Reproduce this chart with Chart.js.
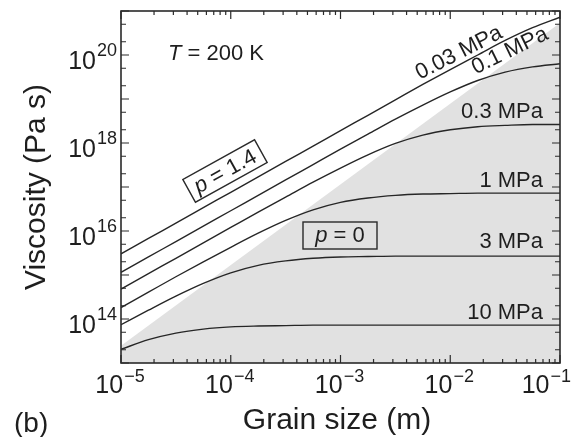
<!DOCTYPE html>
<html>
<head>
<meta charset="utf-8">
<script src="https://cdn.jsdelivr.net/npm/chart.js@4/dist/chart.umd.min.js"></script>
<style>
  html, body { margin: 0; padding: 0; background: #fff; }
</style>
</head>
<body>
<canvas id="chart" width="576" height="437"></canvas>
<script>
// grain size grid, log10(m), quarter decades
const grainExp = [-5, -4.75, -4.5, -4.25, -4, -3.75, -3.5, -3.25, -3, -2.75, -2.5, -2.25, -2, -1.75, -1.5, -1.25, -1];

// log10 viscosity (Pa s), one array per stress
const visc003 = [15.48, 15.83, 16.18, 16.53, 16.88, 17.23, 17.58, 17.93, 18.28, 18.63, 18.98, 19.33, 19.67, 20.00, 20.33, 20.62, 20.86];
const visc01  = [15.06, 15.41, 15.76, 16.11, 16.46, 16.81, 17.16, 17.51, 17.86, 18.20, 18.54, 18.86, 19.16, 19.42, 19.61, 19.73, 19.80];
const visc03  = [14.68, 15.03, 15.38, 15.73, 16.08, 16.43, 16.77, 17.11, 17.43, 17.73, 17.99, 18.18, 18.30, 18.37, 18.40, 18.42, 18.42];
const visc1   = [14.26, 14.61, 14.96, 15.30, 15.63, 15.95, 16.24, 16.48, 16.65, 16.75, 16.81, 16.84, 16.85, 16.86, 16.86, 16.86, 16.86];
const visc3   = [13.87, 14.20, 14.52, 14.81, 15.05, 15.22, 15.32, 15.38, 15.41, 15.42, 15.43, 15.43, 15.43, 15.43, 15.43, 15.43, 15.43];
const visc10  = [13.31, 13.53, 13.68, 13.77, 13.82, 13.84, 13.85, 13.86, 13.86, 13.86, 13.86, 13.86, 13.86, 13.86, 13.86, 13.86, 13.86];
const stressSeries = [visc003, visc01, visc03, visc1, visc3, visc10];
const stressLabels = ['0.03 MPa', '0.1 MPa', '0.3 MPa', '1 MPa', '3 MPa', '10 MPa'];

// edge of the grey (p = 0) field
const boundaryGrainExp = [-5, -1];
const boundaryViscExp = [13.39, 20.73];

// axis ticks (decades)
const xTickExp = [-5, -4, -3, -2, -1];
const yTickExp = [14, 16, 18, 20];

const FONT = '"Liberation Sans", Arial, Helvetica, sans-serif';
const INK = '#1e1e1e';

function toPoints(xe, ye) {
    return xe.map((e, i) => ({ x: Math.pow(10, e), y: Math.pow(10, ye[i]) }));
}

const datasets = stressSeries.map((s, i) => ({
    label: stressLabels[i],
    data: toPoints(grainExp, s),
    borderColor: '#262626',
    borderWidth: 1.4,
    pointRadius: 0,
    cubicInterpolationMode: 'monotone',
    fill: false,
    order: 0
}));
datasets.push({
    label: 'p = 0 field',
    data: toPoints(boundaryGrainExp, boundaryViscExp),
    borderWidth: 0,
    borderColor: 'rgba(0,0,0,0)',
    backgroundColor: '#e1e1e1',
    pointRadius: 0,
    fill: 'start',
    order: 10
});

// "10" with a raised exponent
function drawPow(ctx, exp, x, y, align, baseSize, expSize, raise, maxRight) {
    const base = '10';
    const ex = exp < 0 ? '\u2212' + Math.abs(exp) : String(exp);
    ctx.font = baseSize + 'px ' + FONT;
    const wb = ctx.measureText(base).width;
    ctx.font = expSize + 'px ' + FONT;
    const we = ctx.measureText(ex).width + 1;
    let x0 = align === 'right' ? x - wb - we : x - (wb + we) / 2;
    if (maxRight && x0 + wb + we > maxRight) x0 = maxRight - wb - we;
    ctx.textAlign = 'left';
    ctx.textBaseline = 'alphabetic';
    ctx.font = baseSize + 'px ' + FONT;
    ctx.fillText(base, x0, y);
    ctx.font = expSize + 'px ' + FONT;
    ctx.fillText(ex, x0 + wb + 1, y - raise);
}

// italic symbol followed by plain text, centred at 0,0
function drawSymText(ctx, sym, rest, size) {
    ctx.font = 'italic ' + size + 'px ' + FONT;
    const ws = ctx.measureText(sym).width;
    ctx.font = size + 'px ' + FONT;
    const wr = ctx.measureText(rest).width;
    const x0 = -(ws + wr) / 2;
    ctx.textAlign = 'left';
    ctx.textBaseline = 'middle';
    ctx.font = 'italic ' + size + 'px ' + FONT;
    ctx.fillText(sym, x0, 1);
    ctx.font = size + 'px ' + FONT;
    ctx.fillText(rest, x0 + ws, 1);
}

const framePlugin = {
    id: 'frame',
    afterDraw(chart) {
        const ctx = chart.ctx;
        const xs = chart.scales.x, ys = chart.scales.y;
        const a = chart.chartArea;
        ctx.save();
        ctx.strokeStyle = '#2a2a2a';
        ctx.fillStyle = INK;

        // ticks on all four sides, pointing inwards
        ctx.lineWidth = 1.2;
        ctx.beginPath();
        for (let e = -5; e <= -1; e++) {
            for (let k = 1; k <= 9; k++) {
                const v = k * Math.pow(10, e);
                if (v > 0.1 * 1.0001) break;
                const px = xs.getPixelForValue(v);
                const len = k === 1 ? 8 : 4;
                ctx.moveTo(px, a.bottom); ctx.lineTo(px, a.bottom - len);
                ctx.moveTo(px, a.top); ctx.lineTo(px, a.top + len);
            }
        }
        for (let e = 13; e <= 21; e++) {
            [1, 2, 5].forEach(k => {
                const v = k * Math.pow(10, e);
                if (v > 1e21 * 1.0001) return;
                const py = ys.getPixelForValue(v);
                const len = k === 1 ? 8 : 5;
                ctx.moveTo(a.left, py); ctx.lineTo(a.left + len, py);
                ctx.moveTo(a.right, py); ctx.lineTo(a.right - len, py);
            });
        }
        ctx.stroke();

        // frame
        ctx.lineWidth = 1.6;
        ctx.strokeRect(a.left, a.top, a.right - a.left, a.bottom - a.top);

        // tick labels
        xTickExp.forEach(e => {
            drawPow(ctx, e, xs.getPixelForValue(Math.pow(10, e)) - 1, 393, 'center', 25, 18, 11, 571);
        });
        yTickExp.forEach(e => {
            const py = ys.getPixelForValue(Math.pow(10, e));
            drawPow(ctx, e, 117, py + 14, 'right', 25, 18, 13);
        });

        // axis titles
        ctx.font = '30px ' + FONT;
        ctx.textAlign = 'center';
        ctx.textBaseline = 'alphabetic';
        ctx.fillText('Grain size (m)', 337, 429);
        ctx.save();
        ctx.translate(45, 187);
        ctx.rotate(-Math.PI / 2);
        ctx.fillText('Viscosity (Pa s)', 0, 0);
        ctx.restore();

        ctx.font = '28px ' + FONT;
        ctx.textAlign = 'left';
        ctx.fillText('(b)', 14, 432);

        // temperature
        ctx.font = 'italic 22px ' + FONT;
        ctx.fillText('T', 168, 60);
        const wt = ctx.measureText('T').width;
        ctx.font = '22px ' + FONT;
        ctx.fillText(' = 200 K', 168 + wt, 60);

        // stress labels
        ctx.font = '22px ' + FONT;
        ctx.textAlign = 'right';
        ctx.fillText('0.3 MPa', 543, 118);
        ctx.fillText('1 MPa', 543, 187);
        ctx.fillText('3 MPa', 543, 248);
        ctx.fillText('10 MPa', 543, 319);

        ctx.textAlign = 'center';
        ctx.textBaseline = 'middle';
        ctx.save();
        ctx.translate(459, 53);
        ctx.rotate(-27 * Math.PI / 180);
        ctx.fillText('0.03 MPa', 0, 0);
        ctx.restore();
        ctx.save();
        ctx.translate(510, 51);
        ctx.rotate(-26 * Math.PI / 180);
        ctx.fillText('0.1 MPa', 0, 0);
        ctx.restore();

        // boxed exponents
        ctx.lineWidth = 1.4;
        ctx.save();
        ctx.translate(225, 171);
        ctx.rotate(-29 * Math.PI / 180);
        ctx.strokeRect(-41, -13, 82, 26);
        drawSymText(ctx, 'p', ' = 1.4', 22);
        ctx.restore();

        ctx.save();
        ctx.translate(340, 235);
        ctx.strokeRect(-37, -13, 74, 27);
        drawSymText(ctx, 'p', ' = 0', 22);
        ctx.restore();

        ctx.restore();
    }
};

new Chart(document.getElementById('chart'), {
    type: 'line',
    data: { datasets: datasets },
    options: {
        responsive: false,
        animation: false,
        layout: { padding: { left: 121, right: 16, top: 11, bottom: 74 } },
        plugins: { legend: { display: false }, tooltip: { enabled: false } },
        scales: {
            x: { type: 'logarithmic', min: 1e-5, max: 1e-1, display: false },
            y: { type: 'logarithmic', min: 1e13, max: 1e21, display: false }
        }
    },
    plugins: [framePlugin]
});
</script>
</body>
</html>
